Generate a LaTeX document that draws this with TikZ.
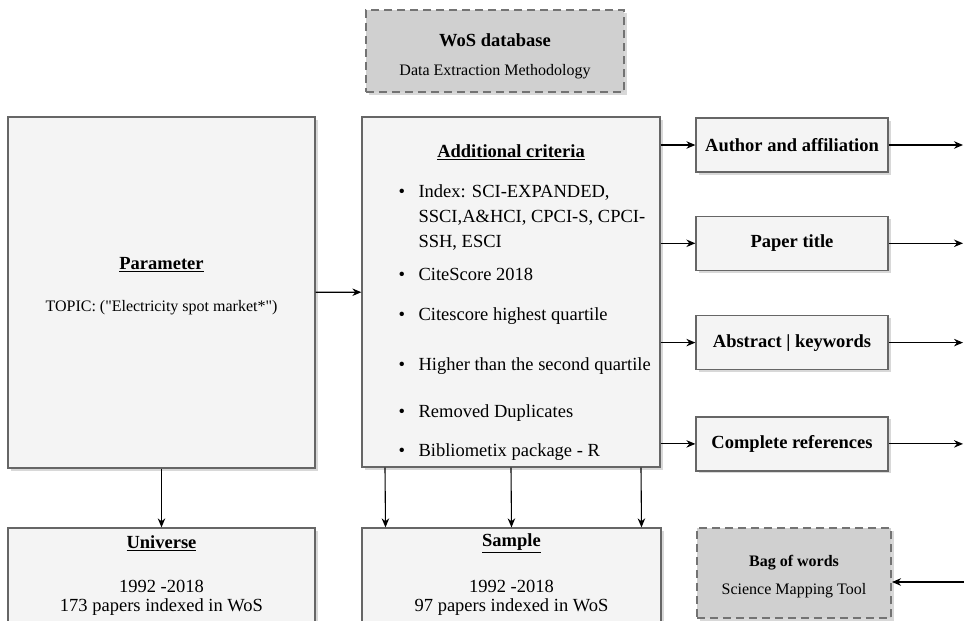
\documentclass[tikz,border=0pt]{standalone}
\usepackage{fontspec}
\setmainfont{Liberation Serif}[Ligatures=TeXOff]
\usetikzlibrary{arrows.meta,positioning,shadows}
\definecolor{boxfill}{HTML}{F4F4F4}
\definecolor{dbfill}{HTML}{D0D0D0}
\definecolor{edge}{HTML}{666666}
\tikzset{
    every node/.style={font=\fontsize{18.5}{25}\selectfont},
    small/.style={font=\fontsize{16}{19}\selectfont},
    box/.style={draw=edge, line width=1.3pt, fill=boxfill, inner sep=0pt,
        drop shadow={shadow xshift=2.5pt, shadow yshift=-2.5pt, fill=black!30}},
    dbox/.style={box, dash pattern=on 8pt off 5pt, line width=2pt, draw=black!55, fill=dbfill},
    outbox/.style={box, minimum width=192pt, minimum height=54pt, font=\fontsize{18.5}{22}\selectfont\bfseries},
    crit/.style={anchor=base west, align=left, inner sep=0pt}
}

\begin{document}
\begin{tikzpicture}[
            x = 1pt, y = -1pt,
            > = {Stealth[length=9pt, width=7.5pt]}, % arrow head style
            line width = 1.1pt % line style
        ]
        \clip (0,0) rectangle (964,621);

        % top and left boxes
        \node[dbox, minimum width=258pt, minimum height=82pt] (wos) at (495,51) {};
        \node (wh) at (495,40) {\textbf{WoS database}};
        \node[small] (ws) at (495,72) {Data Extraction Methodology};
        \node[box, minimum width=307pt, minimum height=351pt] (par) at (161.5,292.5) {};
        \node (ph) at (161.5,265) {\underline{\textbf{Parameter}}};
        \node[small] (pq) at (161.5,308) {TOPIC: ("Electricity spot market*")};
        \node[box, minimum width=298pt, minimum height=350pt] (crit) at (511,292) {};

        % criteria list
        \node (ch) at (511,152) {\underline{\textbf{Additional criteria}}};
        \node[crit] (b1) at (398,197) {\textbullet};
        \node[crit, anchor=north west] (c1) at (418,184.5) {Index: SCI-EXPANDED,\\SSCI,A\&HCI, CPCI-S, CPCI-\\SSH, ESCI};
        \node[crit] (b2) at (398,280) {\textbullet};
        \node[crit] (c2) at (418,280) {CiteScore 2018};
        \node[crit] (b3) at (398,320) {\textbullet};
        \node[crit] (c3) at (418,320) {Citescore highest quartile};
        \node[crit] (b4) at (398,370) {\textbullet};
        \node[crit] (c4) at (418,370) {Higher than the second quartile};
        \node[crit] (b5) at (398,417) {\textbullet};
        \node[crit] (c5) at (418,417) {Removed Duplicates};
        \node[crit] (b6) at (398,456) {\textbullet};
        \node[crit] (c6) at (418,456) {Bibliometix package - R};

        % output fields
        \node[outbox] (au) at (792,145) {Author and affiliation};
        \node[outbox, below=43pt of au] (ti) {Paper title};
        \node[outbox, below=44pt of ti] (ak) {Abstract | keywords};
        \node[outbox, below=46pt of ak] (cr) {Complete references};

        % bottom boxes
        \node[box, minimum width=307pt, minimum height=120pt] (uni) at (161.5,588) {};
        \node (uh) at (161.5,543) {\underline{\textbf{Universe}}};
        \node (u1) at (161.5,586) {1992 -2018};
        \node (u2) at (161.5,607) {173 papers indexed in WoS};
        \node[box, minimum width=299pt, minimum height=120pt] (sam) at (511.5,588) {};
        \node (sh) at (511.5,543) {\underline{\textbf{Sample}}};
        \node (s1) at (511.5,586) {1992 -2018};
        \node (s2) at (511.5,607) {97 papers indexed in WoS};
        \node[dbox, minimum width=194pt, minimum height=90pt] (bag) at (794,573) {};
        \node[small] (bh) at (794,563) {\textbf{Bag of words}};
        \node[small] (bs) at (794,591) {Science Mapping Tool};

        \coordinate (rim) at (963,0);
        \coordinate (bagin) at (964,582);

        \draw[->] (par) -- (crit);
        \draw[->] (par) -- (uni);
        \foreach \dx in {-126,0,130}
            \draw[->] ([xshift=\dx pt]crit.south) -- ([xshift=\dx pt]sam.north);
        \foreach \f in {au,ti,ak,cr} {
            \draw[->] (crit.east |- \f) -- (\f);
            \draw[->] (\f.east) -- (\f.east -| rim);
        }
        \draw[->] (bagin) -- (bagin -| bag.east);

  \end{tikzpicture}
\end{document}
